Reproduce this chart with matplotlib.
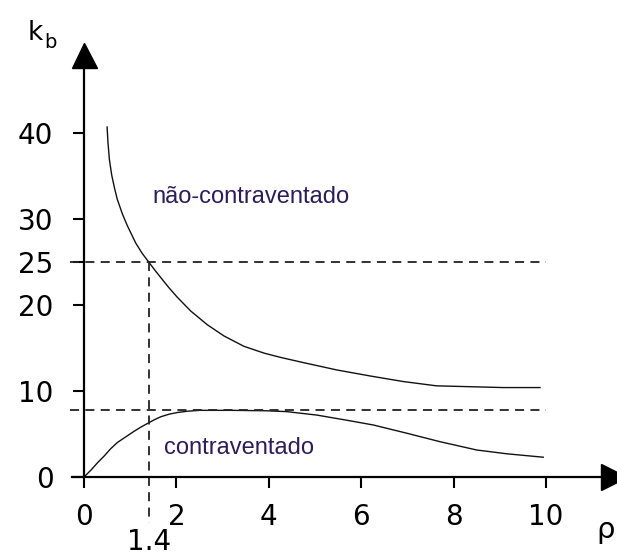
import matplotlib
matplotlib.use("Agg")
import matplotlib.pyplot as plt

# ---- data ----
rho_nc = [0.5, 0.52, 0.55, 0.6, 0.66, 0.72, 0.83, 0.94, 1.12, 1.26, 1.4, 1.52, 1.66, 1.84, 2.02,
          2.31, 2.67, 3.03, 3.46, 3.9, 4.26, 4.75, 5.47, 6.19, 6.91, 7.63, 8.35, 9.07, 9.87]
kb_nc = [40.7, 38.8, 36.9, 35.1, 33.6, 32.3, 30.6, 29.2, 27.2, 26.0, 25.0, 24.15, 23.2, 22.0, 20.9,
         19.3, 17.7, 16.4, 15.2, 14.4, 13.9, 13.3, 12.45, 11.75, 11.1, 10.6, 10.5, 10.4, 10.4]

rho_c = [0.0, 0.15, 0.3, 0.43, 0.58, 0.72, 0.94, 1.08, 1.23, 1.4, 1.52, 1.66, 1.84, 2.02, 2.24,
         2.51, 3.2, 3.95, 4.39, 5.04, 5.69, 6.26, 6.98, 7.71, 8.5, 9.15, 9.94]
kb_c = [0.0, 0.8, 1.7, 2.4, 3.3, 4.0, 4.8, 5.3, 5.8, 6.3, 6.65, 7.0, 7.3, 7.5, 7.65,
        7.75, 7.75, 7.7, 7.6, 7.2, 6.6, 6.05, 5.1, 4.1, 3.14, 2.7, 2.3]

xticks = [0, 2, 4, 6, 8, 10]
yticks = [0, 10, 20, 25, 30, 40]
ref_rho = 1.4
ref_kb_nc = 25
ref_kb_c = 7.8

plt.rcParams['font.family'] = ['DejaVu Sans']

W, H = 617, 555
fig = plt.figure(figsize=(W / 100, H / 100), dpi=100)
ax = fig.add_axes([0, 0, 1, 1])
# pixel mapping: x=0 -> 84px, 46.2 px/unit ; y=0 -> 477px, 8.6 px/unit
x0, sx = 84.0, 46.2
y0, sy = 477.0, 8.6
ax.set_xlim(-x0 / sx, (W - x0) / sx)
ax.set_ylim(-(H - y0) / sy, y0 / sy)

for s in ['top', 'right']:
    ax.spines[s].set_visible(False)
ax.spines['left'].set_position(('data', 0))
ax.spines['bottom'].set_position(('data', 0))
ax.spines['left'].set_linewidth(1.6)
ax.spines['bottom'].set_linewidth(1.6)
ax.spines['left'].set_bounds(0, 48)
ax.spines['bottom'].set_bounds(-0.27, 11.2)

ax.set_xticks(xticks)
ax.set_xticklabels([str(t) for t in xticks])
ax.set_yticks(yticks)
ax.set_yticklabels([str(t) for t in yticks])
ax.tick_params(axis='both', direction='out', length=8, width=1.5, labelsize=20)
ax.tick_params(axis='x', pad=11)
ax.tick_params(axis='y', pad=14)

# arrow heads
ax.plot(0, 49.1, marker='^', color='black', markersize=18, clip_on=False)
ax.plot(11.47, 0, marker='>', color='black', markersize=19, clip_on=False)

# curves
ax.plot(rho_nc, kb_nc, color='#111111', lw=1.0)
ax.plot(rho_c, kb_c, color='#111111', lw=1.0)

# dashed reference lines
dash = (0, (5, 3.5))
ax.plot([-0.3, 10], [ref_kb_nc, ref_kb_nc], color='#222222', lw=1.3, linestyle=dash)
ax.plot([-0.3, 10], [ref_kb_c, ref_kb_c], color='#222222', lw=1.3, linestyle=dash)
ax.plot([ref_rho, ref_rho], [ref_kb_nc, -5.3], color='#222222', lw=1.3, linestyle=dash)

# texts
ax.text(ref_rho, -7.5, '1.4', fontsize=20, ha='center', va='center')
ax.text(-1.06, 51.6, 'k', fontsize=19, ha='center', va='center')
ax.text(-0.73, 50.5, 'b', fontsize=14, ha='center', va='center')
ax.text(11.3, -6.2, 'ρ', fontsize=21, ha='center', va='center')
ax.text(1.49, 32.6, 'não-contraventado', fontsize=17, ha='left', va='center',
        color='#2b1d5a', family=['Liberation Sans', 'DejaVu Sans'])
ax.text(1.74, 3.4, 'contraventado', fontsize=17, ha='left', va='center',
        color='#2b1d5a', family=['Liberation Sans', 'DejaVu Sans'])

fig.savefig('out.png', dpi=100)
